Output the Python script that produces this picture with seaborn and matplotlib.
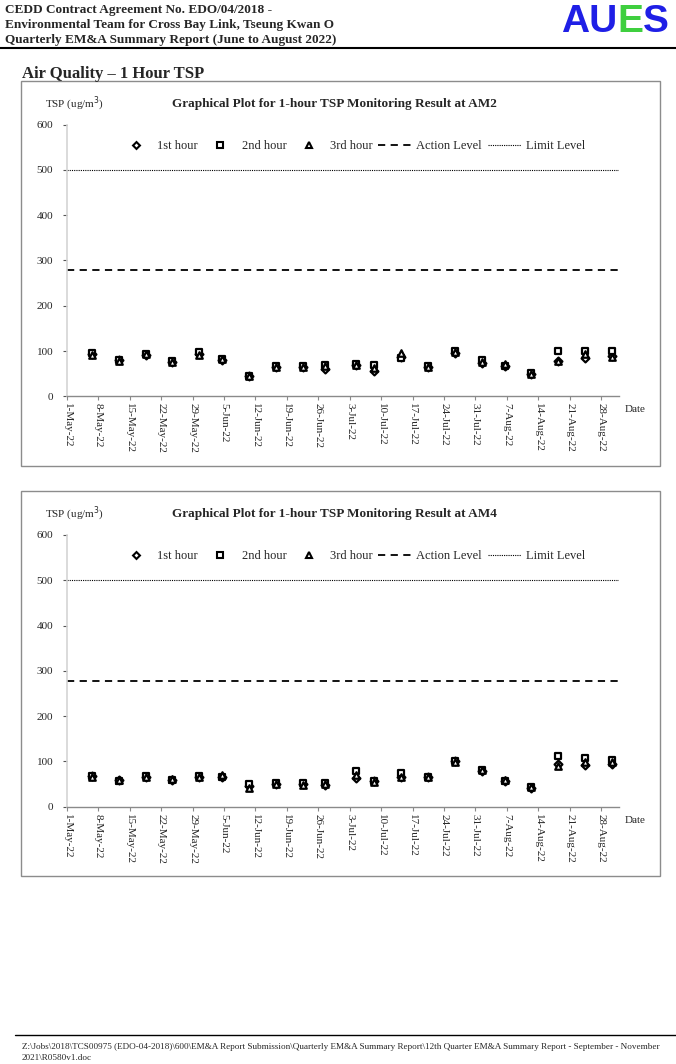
# =====================================
# 1. Import Libraries
# =====================================

import pandas as pd
import numpy as np
import matplotlib
matplotlib.use("Agg")
import matplotlib.pyplot as plt
from matplotlib.lines import Line2D
from matplotlib.patches import Rectangle
import seaborn as sns

sns.set_theme(style="white")
plt.rcParams['font.family'] = ['Liberation Serif', 'DejaVu Serif']

# =====================================
# 2. Data
# =====================================

sample_dates = ["2022-05-06", "2022-05-12", "2022-05-18", "2022-05-24", "2022-05-30",
                "2022-06-04", "2022-06-10", "2022-06-16", "2022-06-22", "2022-06-27",
                "2022-07-04", "2022-07-08", "2022-07-14", "2022-07-20", "2022-07-26",
                "2022-08-01", "2022-08-06", "2022-08-12", "2022-08-18", "2022-08-24",
                "2022-08-30"]

# AM2 - 1 hour TSP (ug/m3)
am2_1st = [93, 80, 92, 76, 94, 81, 44, 64, 64, 60, 68, 55, 86, 64, 95, 74, 66, 50, 77, 84, 90]
am2_2nd = [95, 81, 93, 78, 97, 83, 45, 67, 67, 68, 71, 68, 85, 66, 100, 80, 67, 51, 99, 99, 101]
am2_3rd = [92, 79, 94, 75, 92, 82, 44, 65, 65, 66, 70, 62, 95, 65, 98, 76, 72, 49, 78, 94, 87]

# AM4 - 1 hour TSP (ug/m3)
am4_1st = [67, 60, 66, 60, 66, 65, 46, 50, 50, 47, 64, 56, 66, 66, 100, 78, 56, 42, 95, 93, 95]
am4_2nd = [68, 57, 67, 60, 67, 66, 51, 52, 53, 53, 78, 56, 74, 66, 101, 81, 57, 43, 112, 108, 104]
am4_3rd = [65, 59, 65, 62, 65, 69, 42, 50, 47, 51, 70, 54, 66, 65, 98, 80, 58, 44, 89, 98, 99]

action_level = 278
limit_level = 500

tick_dates = ["2022-05-01", "2022-05-08", "2022-05-15", "2022-05-22", "2022-05-29",
              "2022-06-05", "2022-06-12", "2022-06-19", "2022-06-26", "2022-07-03",
              "2022-07-10", "2022-07-17", "2022-07-24", "2022-07-31", "2022-08-07",
              "2022-08-14", "2022-08-21", "2022-08-28"]
tick_labels = ["1-May-22", "8-May-22", "15-May-22", "22-May-22", "29-May-22",
               "5-Jun-22", "12-Jun-22", "19-Jun-22", "26-Jun-22", "3-Jul-22",
               "10-Jul-22", "17-Jul-22", "24-Jul-22", "31-Jul-22", "7-Aug-22",
               "14-Aug-22", "21-Aug-22", "28-Aug-22"]

header_lines = ["CEDD Contract Agreement No. EDO/04/2018 -",
                "Environmental Team for Cross Bay Link, Tseung Kwan O",
                "Quarterly EM&A Summary Report (June to August 2022)"]
footer_lines = [r"Z:\Jobs\2018\TCS00975 (EDO-04-2018)\600\EM&A Report Submission\Quarterly EM&A Summary Report\12th Quarter EM&A Summary Report - September - November",
                r"2021\R0580v1.doc"]

# =====================================
# 3. Page layout
# =====================================

W, H = 676, 1064
fig = plt.figure(figsize=(W / 100, H / 100), dpi=100)
fig.patch.set_facecolor("white")

# page overlay in pixel coordinates
page = fig.add_axes([0, 0, 1, 1])
page.set_xlim(0, W)
page.set_ylim(H, 0)
page.axis("off")


def px_rect(left, top, right, bottom):
    return [left / W, 1 - bottom / H, (right - left) / W, (bottom - top) / H]


# header
for i, line in enumerate(header_lines):
    page.text(5, 10 + i * 15, line, fontsize=9.5, fontweight="bold", va="center", ha="left")
page.plot([0, W], [48, 48], color="black", lw=1.5)

logo_a = page.text(561, 22, "AU", fontsize=28, fontweight="bold", color="#1f1fe6",
                   family="Liberation Sans", va="center", ha="left")
logo_e = page.annotate("E", xy=(1, 0), xycoords=logo_a, va="bottom", ha="left",
                       fontsize=28, fontweight="bold", color="#3fcf3f", family="Liberation Sans")
page.annotate("S", xy=(1, 0), xycoords=logo_e, va="bottom", ha="left",
              fontsize=28, fontweight="bold", color="#1f1fe6", family="Liberation Sans")

page.text(22, 74, "Air Quality \u2013 1 Hour TSP", fontsize=12, fontweight="bold", va="center")

# footer
page.plot([15, W], [1035, 1035], color="black", lw=1)
for i, line in enumerate(footer_lines):
    page.text(22, 1047 + i * 11, line, fontsize=6.6, va="center")


# =====================================
# 4. Chart drawing
# =====================================

def draw_chart(offset, station, first, second, third):
    # frame around the chart
    page.add_patch(Rectangle((21, 81 + offset), 639, 385, fill=False,
                             edgecolor="#8c8c8c", lw=1))

    ax = fig.add_axes(px_rect(67, 124.5 + offset, 619, 396.3 + offset))
    ax.set_facecolor("none")

    df = pd.DataFrame({
        "Date": pd.to_datetime(sample_dates) + pd.Timedelta(hours=12),
        "1st hour": first,
        "2nd hour": second,
        "3rd hour": third,
    })

    sns.scatterplot(data=df, x="Date", y="1st hour", marker="D", s=16, color="white",
                    edgecolor="black", linewidth=1.6, ax=ax, zorder=3)
    sns.scatterplot(data=df, x="Date", y="2nd hour", marker="s", s=24, color="white",
                    edgecolor="black", linewidth=1.6, ax=ax, zorder=3)
    sns.scatterplot(data=df, x="Date", y="3rd hour", marker="^", s=22, color="white",
                    edgecolor="black", linewidth=1.6, ax=ax, zorder=3)

    ax.axhline(action_level, color="black", lw=1.3, ls=(0, (4, 3)))
    ax.axhline(limit_level, color="black", lw=0.8, ls=(0, (1, 1)))

    ax.set_xlim(pd.Timestamp("2022-05-01"), pd.Timestamp("2022-09-01"))
    ax.set_ylim(0, 600)
    ax.set_yticks(np.arange(0, 601, 100))
    ax.set_xticks(pd.to_datetime(tick_dates))
    ax.set_xticklabels(tick_labels, rotation=270, ha="center", va="top")
    ax.set_xlabel("")
    ax.set_ylabel("")

    for side in ["top", "right"]:
        ax.spines[side].set_visible(False)
    ax.spines["left"].set_color("#d4d4d4")
    ax.spines["left"].set_linewidth(1.2)
    ax.spines["bottom"].set_color("#8a8a8a")
    ax.spines["bottom"].set_linewidth(1.0)

    ax.tick_params(axis="y", left=True, direction="out", length=3, width=0.8,
                   color="#555555", pad=7, labelsize=8)
    ax.tick_params(axis="x", bottom=True, direction="out", length=3, width=0.8,
                   color="#8a8a8a", pad=2, labelsize=8)
    ax.grid(False)

    # legend
    handles = [
        Line2D([], [], ls="none", marker="D", ms=3.5, mfc="white", mec="black", mew=1.5, label="1st hour"),
        Line2D([], [], ls="none", marker="s", ms=4.5, mfc="white", mec="black", mew=1.5, label="2nd hour"),
        Line2D([], [], ls="none", marker="^", ms=4.5, mfc="white", mec="black", mew=1.5, label="3rd hour"),
        Line2D([], [], color="black", lw=1.3, ls=(0, (4, 3)), label="Action Level"),
        Line2D([], [], color="black", lw=0.8, ls=(0, (1, 1)), label="Limit Level"),
    ]
    ax.legend(handles=handles, ncol=5, loc="center", frameon=False, fontsize=9,
              handlelength=2.7, handletextpad=0.35, columnspacing=0.45,
              bbox_to_anchor=(352, 146 + offset), bbox_transform=page.transData)

    # texts
    page.text(45, 104 + offset, "TSP (ug/m$^3$)", fontsize=8, va="center", ha="left")
    page.text(334, 104 + offset, f"Graphical Plot for 1-hour TSP Monitoring Result at {station}",
              fontsize=9.5, fontweight="bold", va="center", ha="center")
    page.text(625, 410 + offset, "Date", fontsize=8, va="center", ha="left")
    return ax


draw_chart(0, "AM2", am2_1st, am2_2nd, am2_3rd)
draw_chart(410.4, "AM4", am4_1st, am4_2nd, am4_3rd)

plt.savefig("out.png", dpi=100, facecolor="white")
